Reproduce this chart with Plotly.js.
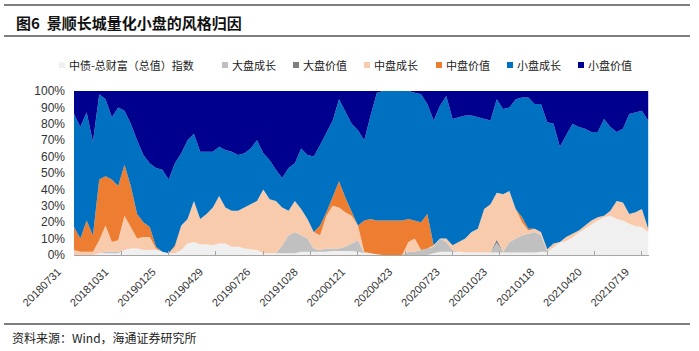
<!DOCTYPE html>
<html>
<head>
<meta charset="utf-8">
<script src="https://cdn.plot.ly/plotly-3.0.1.min.js"></script>
<style>html,body{margin:0;padding:0;background:#fff;}#chart{width:699px;height:351px;}</style>
</head>
<body>
<div id="chart"></div>
<script>
// Trading-day sampling step (every 8 trading days) and tick labels (every 60 trading days)
const sampleStep = 8;
const tickEvery = 60;
const tickDates = ['20180731','20181031','20190125','20190429','20190726','20191028','20200121','20200423','20200723','20201023','20210118','20210420','20210719'];

const seriesNames = ['中债-总财富（总值）指数','大盘成长','大盘价值','中盘成长','中盘价值','小盘成长','小盘价值'];

const bondIndex = [0,0,0,0,1,1,1,1,3,4,
 4,3,3,3,2,1,1,3,7,8,
 6.5,6.5,6,7,7,5,5,4,3.5,3,
 1,1,1,1,1,1,2,2,2,2,
 2,2.5,2.5,2.5,2.5,2,1,1,0.5,0,
 0,0,0,0,0,0,0,1,2,2,
 2,2,1.5,1.5,1.5,1.5,1.5,1.5,1.5,1.5,
 1.5,1.5,1.5,1.5,2,2,4.5,7.5,8.5,10.5,
 13.5,16,19,21,23,24,22,21,19,17.5,
 17,14];

const largeGrowth = [0,0,0,0,0,1,1,1,0,0,
 0,0,0,0,0,0,0,0,0,0,
 0,0,0,0,0,0,0,0,0,0,
 0,0,0,5,11,13,10,8,2,1,
 2,1.5,1.5,2.5,4.5,7,0,0,0,0,
 0,0,0,2,2,3,4,4,8,6,
 1,0,0,0,0,0,0,6,0.5,6.5,
 8.5,10.5,11.5,12.5,10,0.5,0,0,0,0,
 0,0,0,0,0,0,0,0,0,0,
 0,0];

const largeValue = [0,0,0,0,0,0,0,0,0,0,
 0,0,0,0,0,0,0,0,0,0,
 0,0,0,0,0,0,0,0,0,0,
 0,0,0,0,0,0,0,0,0,0,
 0,0,0,0,0,0,0,0,0,0,
 0,0,0,0,0,0,0,0,0,0,
 0,0,0,0,0,0,0,2,0,0,
 0,0,0,0,0,0,0,0,0,0,
 0,0,0,0,0,0,0,0,0,0,
 0,0];

const midGrowth = [3,2,2,2,8,16,6,7,21,13,
 6,8,8,1,0,0,4,15,15,25,
 15.5,18.5,23,29,22,22,22,25,27.5,30,
 39,33,32,23,15,19,16,12,10,9,
 20,26,25,21,17,9,1,0,0,0,
 0,0,0,6,8,0,0,1,0,2,
 3,6,8.5,12.5,14.5,26.5,29.5,28.5,35,31,
 18,8,2,2,2,1,2.5,0.5,2.5,2.5,
 1.5,2,2,2,1,3,11,11,6,8.5,
 11,2];

const midValue = [14,8,19,10,37,30,38,33,31,25,
 15,9,6,1,0,0,1,0,0,0,
 0,0,0,0,0,0,0,0,0,0,
 0,0,0,0,0,0,0,0,0,6,
 2,5,16,9,2,0,19,21,20.5,21,
 21,21,21,14,11,17,21,0,0,0,
 0,0,0,0,0,0,0,0,0,0,
 0,3,1,0,0,0,0,0,0,0,
 0,0,0,0,0,0,0,0,0,0,
 0,0];

const smallGrowth = [69,68,66,57,52,47,38,48,33,38,
 45,41,39,48,50,45,50,44,48,41,
 41,38,34,30,35,36,34,33,34,37,
 22,24,19,18,26,23,37,39,46,49,
 49,47,50,52,54,58,49,63,78,79,
 79,79,79,78,78,78,67,76,81,87,
 77,76,75,71,68,55,51,57,52,51,
 67,73,80,76,78,77.5,73,58,62,67,
 63,59,54,52,59,51,42,45,61,61,
 60,66];

const smallValue = [14,22,13,31,2,5,16,10,12,20,
 30,39,44,47,48,54,44,38,30,26,
 37,37,37,34,36,37,39,38,35,30,
 38,42,48,53,47,44,35,39,40,33,
 25,18,5,13,20,24,30,15,1,0,
 0,0,0,0,1,2,8,18,9,3,
 17,16,15,15,16,17,18,5,11,10,
 5,4,4,8,8,19,20,34,27,20,
 22,23,25,25,17,22,25,23,14,13,
 12,18];

const colors = ['#f0f0f0','#c0c0c0','#7f7f7f','#f8cbad','#ed7d31','#0070c0','#00008f'];
const allSeries = [bondIndex, largeGrowth, largeValue, midGrowth, midValue, smallGrowth, smallValue];

const xDays = bondIndex.map((_, i) => i * sampleStep);

const traces = allSeries.map((vals, k) => ({
  type: 'scatter',
  mode: 'lines',
  x: xDays,
  y: vals,
  name: seriesNames[k],
  stackgroup: 'one',
  groupnorm: k === 0 ? 'percent' : undefined,
  fillcolor: colors[k],
  line: {width: 0, color: colors[k]},
  hoverinfo: 'skip',
  showlegend: false
}));

// geometry helpers (pixels -> paper)
const L = 74, R = 649, T = 91, B = 255;
const px = v => (v - L) / (R - L);
const py = v => (B - v) / (B - T);

const legendX = [62, 225, 296, 367, 439, 510, 581];
const legendY = 65;

const shapes = [
  {type:'line', xref:'paper', yref:'paper', x0:px(4), x1:px(690), y0:py(5), y1:py(5), line:{color:'#7f7f7f', width:2}},
  {type:'line', xref:'paper', yref:'paper', x0:px(4), x1:px(690), y0:py(36), y1:py(36), line:{color:'#7f7f7f', width:2}},
  {type:'line', xref:'paper', yref:'paper', x0:px(4), x1:px(690), y0:py(324), y1:py(324), line:{color:'#7f7f7f', width:2}}
];
const annotations = [
  {xref:'paper', yref:'paper', x:px(14), y:py(22), xanchor:'left', yanchor:'middle', showarrow:false,
   text:'<b>图6  景顺长城量化小盘的风格归因</b>', font:{family:'Noto Sans CJK SC', size:15, color:'#111'}},
  {xref:'paper', yref:'paper', x:px(10), y:py(337), xanchor:'left', yanchor:'middle', showarrow:false,
   text:'资料来源：Wind，海通证券研究所', font:{family:'Noto Sans CJK SC', size:12, color:'#222'}}
];
seriesNames.forEach((nm, k) => {
  shapes.push({type:'rect', xref:'paper', yref:'paper', xsizemode:'pixel', ysizemode:'pixel',
    xanchor:px(legendX[k]), yanchor:py(legendY), x0:-3, x1:3, y0:-3, y1:3,
    fillcolor:colors[k], line:{width:0}});
  annotations.push({xref:'paper', yref:'paper', x:px(legendX[k] + 5), y:py(legendY), xanchor:'left', yanchor:'middle',
    showarrow:false, text:nm, font:{family:'Noto Sans CJK SC', size:11, color:'#222'}});
});

const layout = {
  width: 699, height: 351,
  margin: {l: L, r: 699 - R, t: T, b: 351 - B},
  paper_bgcolor: '#fff', plot_bgcolor: '#fff',
  showlegend: false,
  font: {family: 'Liberation Sans, Arial, sans-serif', color: '#333'},
  xaxis: {
    range: [0, 729],
    tickvals: tickDates.map((_, k) => k * tickEvery),
    ticktext: tickDates,
    tickangle: -45,
    tickfont: {size: 11, color: '#333'},
    showgrid: false, zeroline: false,
    showline: true, linecolor: '#a6a6a6', linewidth: 1,
    ticks: 'inside', ticklen: 4, tickcolor: '#a6a6a6',
    ticklabelshift: -16,
    ticklabelstandoff: 5
  },
  yaxis: {
    range: [0, 100],
    tickvals: [0,10,20,30,40,50,60,70,80,90,100],
    ticktext: ['0%','10%','20%','30%','40%','50%','60%','70%','80%','90%','100%'],
    tickfont: {size: 12, color: '#333'},
    showgrid: false, zeroline: false, showline: false,
    ticks: '', ticklabelstandoff: 8
  },
  shapes: shapes,
  annotations: annotations
};

Plotly.newPlot('chart', traces, layout, {displayModeBar: false, staticPlot: true});
</script>
</body>
</html>
